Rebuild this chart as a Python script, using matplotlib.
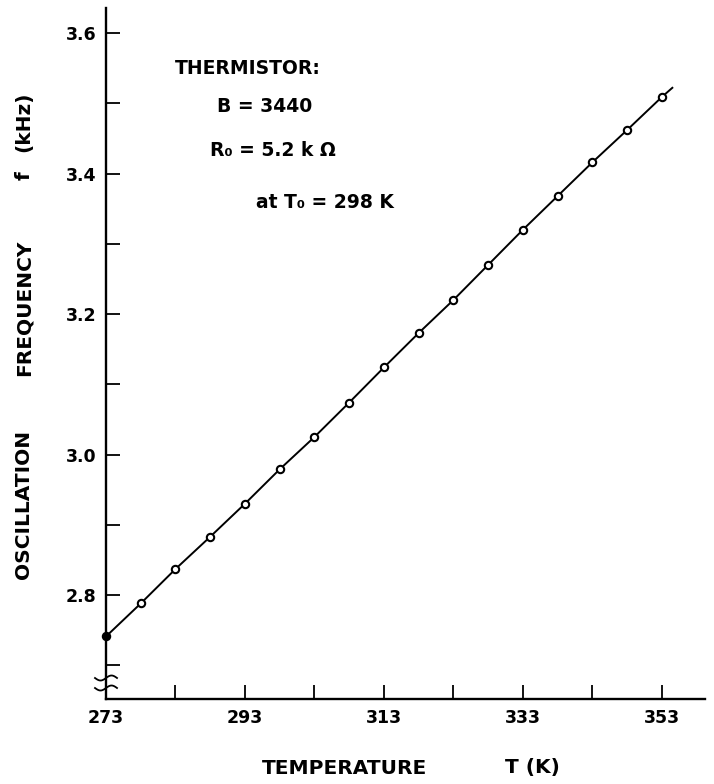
import matplotlib
matplotlib.use('Agg')
import matplotlib.pyplot as plt
import matplotlib.transforms as mtransforms
from matplotlib.lines import Line2D
import numpy as np

# ---- data ----
temperature_K = [273, 278, 283, 288, 293, 298, 303, 308, 313, 318, 323, 328,
                 333, 338, 343, 348, 353]
frequency_kHz = [2.741, 2.788, 2.837, 2.883, 2.930, 2.979, 3.025, 3.074, 3.124,
                 3.173, 3.220, 3.270, 3.320, 3.368, 3.416, 3.462, 3.509]
line_end_T = [354.5]
line_end_f = [3.522]

x_ticks = [273, 283, 293, 303, 313, 323, 333, 343, 353]
x_tick_labels = ['273', '', '293', '', '313', '', '333', '', '353']
y_ticks = [2.7, 2.8, 2.9, 3.0, 3.1, 3.2, 3.3, 3.4, 3.5, 3.6]
y_tick_labels = ['', '2.8', '', '3.0', '', '3.2', '', '3.4', '', '3.6']

annotation_lines = ['THERMISTOR:', 'B = 3440', 'R₀ = 5.2 k Ω', 'at T₀ = 298 K']
x_label_words = ['TEMPERATURE', 'T (K)']
y_label_words = ['OSCILLATION', 'FREQUENCY', 'f', '(kHz)']

# ---- figure ----
W, H = 714, 784
fig = plt.figure(figsize=(W / 100, H / 100), dpi=100)
plt.rcParams['font.family'] = ['DejaVu Sans']
FS_TICK = 12.5
FS_LABEL = 14.5
FS_ANN = 13.5
FW = 'bold'

ax_l, ax_r, ax_t, ax_b = 106, 705, 8, 699
ax = fig.add_axes([ax_l / W, 1 - ax_b / H, (ax_r - ax_l) / W, (ax_b - ax_t) / H])

ax.plot(temperature_K + line_end_T, frequency_kHz + line_end_f, color='black', lw=1.4,
        zorder=3, clip_on=False)
ax.plot(temperature_K[1:], frequency_kHz[1:], 'o', mfc='white', mec='black', ms=5.3,
        mew=1.5, zorder=4, clip_on=False)
ax.plot(temperature_K[:1], frequency_kHz[:1], 'o', mfc='black', mec='black', ms=5.3,
        mew=1.5, zorder=4, clip_on=False)

ax.set_xlim(273, 359.2)
ax.set_ylim(2.652, 3.6356)

for s in ['top', 'right']:
    ax.spines[s].set_visible(False)
for s in ['left', 'bottom']:
    ax.spines[s].set_linewidth(1.7)

ax.set_xticks(x_ticks)
ax.set_xticklabels(x_tick_labels)
ax.set_yticks(y_ticks)
ax.set_yticklabels(y_tick_labels)
ax.tick_params(direction='in', length=10, width=1.3, pad=7, labelsize=FS_TICK)
for lab in ax.get_xticklabels() + ax.get_yticklabels():
    lab.set_fontweight(FW)

def px(x, y):
    return x / W, 1 - y / H

# y-axis label, word pieces placed like the reference
y_label_centers = [504, 308, 176, 122]
for word, yc in zip(y_label_words, y_label_centers):
    fig.text(*px(24, yc), word, rotation=90, ha='center', va='center',
             fontsize=FS_LABEL, fontweight=FW)

# x-axis label
x_label_centers = [345, 532]
for word, xc in zip(x_label_words, x_label_centers):
    fig.text(*px(xc, 768), word, ha='center', va='center', fontsize=FS_LABEL,
             fontweight=FW)

# thermistor annotation
ann_centers = [(248, 68), (265, 107), (273, 150), (325, 203)]
for txt, (xc, yc) in zip(annotation_lines, ann_centers):
    fig.text(*px(xc, yc), txt, ha='center', va='center', fontsize=FS_ANN, fontweight=FW)

# axis break mark on the y axis
fig.canvas.draw()
idt = mtransforms.IdentityTransform()
for ypix in (678, 688):
    xs = np.linspace(-11, 11, 60)
    ys = 2.5 * np.sin(np.pi * xs / 11)
    fig.add_artist(Line2D(ax_l + xs, (H - ypix) + ys, color='black', lw=1.3,
                          transform=idt))

fig.savefig('out.png', dpi=100)
